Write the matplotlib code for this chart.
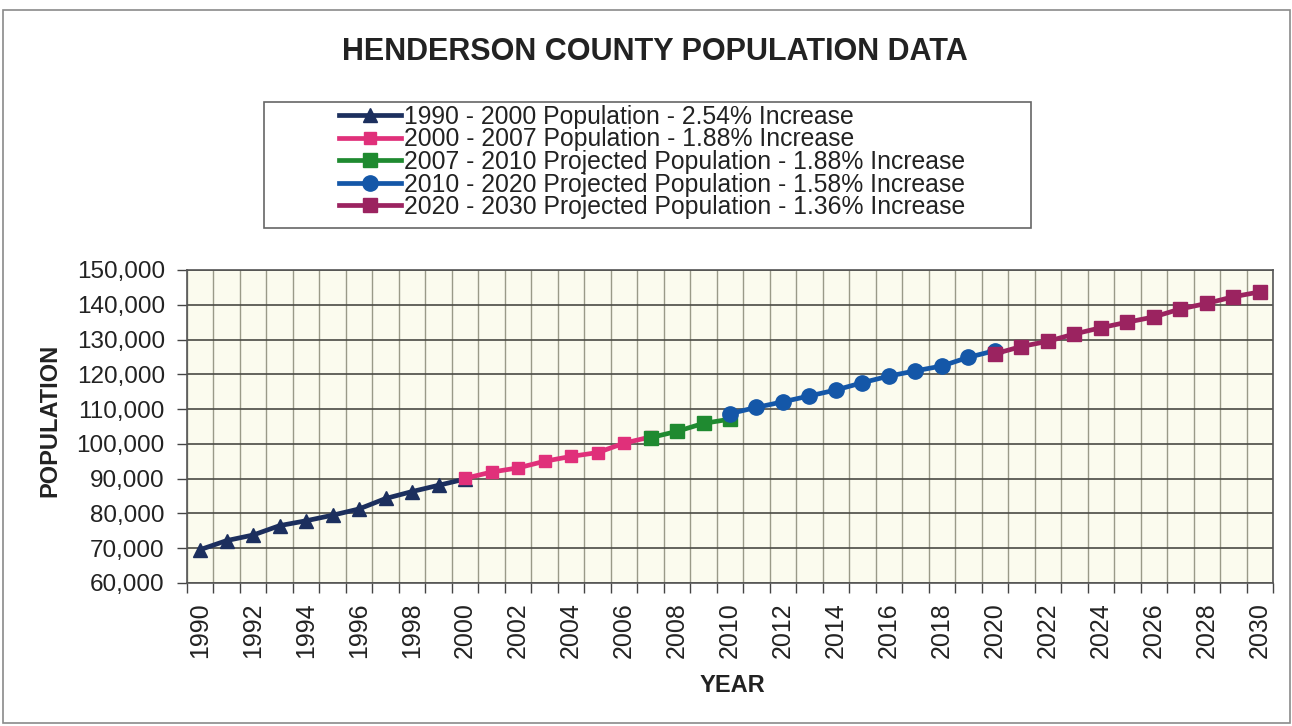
import matplotlib.pyplot as plt
from matplotlib.lines import Line2D
from matplotlib.patches import Rectangle
from matplotlib.ticker import FuncFormatter, MultipleLocator

plt.rcParams['font.family'] = ['Liberation Sans', 'DejaVu Sans']

years_1990_2000 = list(range(1990, 2001))
pop_1990_2000 = [69600, 72200, 73800, 76500, 77900, 79500, 81300, 84300, 86300, 88100, 89900]

years_2000_2007 = list(range(2000, 2008))
pop_2000_2007 = [90100, 91900, 93100, 95000, 96400, 97500, 100200, 102000]

years_2007_2010 = list(range(2007, 2011))
pop_2007_2010 = [101800, 103600, 105900, 107100]

years_2010_2020 = list(range(2010, 2021))
pop_2010_2020 = [108700, 110500, 112100, 113800, 115500, 117600, 119500, 121000, 122400, 124900, 126800]

years_2020_2030 = list(range(2020, 2031))
pop_2020_2030 = [125900, 128000, 129500, 131600, 133400, 135000, 136500, 138800, 140400, 142300, 143700]

labels = [
    "1990 - 2000 Population - 2.54% Increase",
    "2000 - 2007 Population - 1.88% Increase",
    "2007 - 2010 Projected Population - 1.88% Increase",
    "2010 - 2020 Projected Population - 1.58% Increase",
    "2020 - 2030 Projected Population - 1.36% Increase",
]

W, H = 1292, 726
fig = plt.figure(figsize=(W / 100, H / 100), dpi=100)
fig.patch.set_facecolor('white')

# outer chart frame
fig.patches.append(Rectangle((3 / W, 1 - 723 / H), 1287 / W, 713 / H, transform=fig.transFigure,
                             fill=False, edgecolor='#8a8a8a', linewidth=1.2))

ax = fig.add_axes([187 / W, 1 - 583 / H, (1273 - 187) / W, (583 - 270) / H])
ax.set_facecolor('#fbfbee')

series = [
    (years_1990_2000, pop_1990_2000, '#1c2f5e', '^', 10),
    (years_2000_2007, pop_2000_2007, '#e0307a', 's', 9),
    (years_2007_2010, pop_2007_2010, '#1f8a30', 's', 9.5),
    (years_2010_2020, pop_2010_2020, '#1457a8', 'o', 11),
    (years_2020_2030, pop_2020_2030, '#9b2360', 's', 10),
]

handles = []
for (x, y, c, m, ms), lab in zip(series, labels):
    ax.plot(x, y, color=c, marker=m, markersize=ms, linewidth=3.4, zorder=3)
    handles.append(Line2D([], [], color=c, marker=m, markersize=ms, linewidth=3.4, label=lab))

ax.set_xlim(1989.5, 2030.5)
ax.set_ylim(60000, 150000)

ax.yaxis.set_major_locator(MultipleLocator(10000))
ax.yaxis.set_major_formatter(FuncFormatter(lambda v, p: f"{int(v):,}"))
ax.xaxis.set_major_locator(MultipleLocator(2))
ax.xaxis.set_minor_locator(MultipleLocator(1, offset=0.5))

ax.grid(True, axis='y', which='major', color='#4a4a44', linewidth=1.2)
ax.grid(True, axis='x', which='minor', color='#9a9a88', linewidth=1.0)
ax.set_axisbelow(True)

ax.tick_params(axis='y', which='major', labelsize=17.5, length=7, width=1, color='#444', pad=9)
ax.tick_params(axis='x', which='major', labelsize=18, length=0, pad=14, labelrotation=90)
ax.tick_params(axis='x', which='minor', length=7, width=1, color='#444')
for t in ax.get_xticklabels() + ax.get_yticklabels():
    t.set_color('#222222')

for s in ax.spines.values():
    s.set_color('#555555')
    s.set_linewidth(1.2)

fig.text(655 / W, 1 - 52 / H, "HENDERSON COUNTY POPULATION DATA", ha='center', va='center',
         fontsize=22, fontweight='bold', color='#222222')
fig.text(50 / W, 1 - 420 / H, "POPULATION", ha='center', va='center', rotation=90,
         fontsize=17, fontweight='bold', color='#222222')
fig.text(732 / W, 1 - 685 / H, "YEAR", ha='center', va='center',
         fontsize=17, fontweight='bold', color='#222222')

# legend box
fig.patches.append(Rectangle((264 / W, 1 - 228 / H), (1031 - 264) / W, (228 - 102) / H,
                             transform=fig.transFigure, fill=True, facecolor='white',
                             edgecolor='#666666', linewidth=1.2))
fig.legend(handles=handles, loc='center', bbox_to_anchor=(652 / W, 1 - 162 / H), frameon=False,
           fontsize=17.8, handlelength=2.5, handletextpad=0.12, labelspacing=-0.06,
           borderpad=0, labelcolor='#222222')

fig.savefig('out.png', dpi=100)
